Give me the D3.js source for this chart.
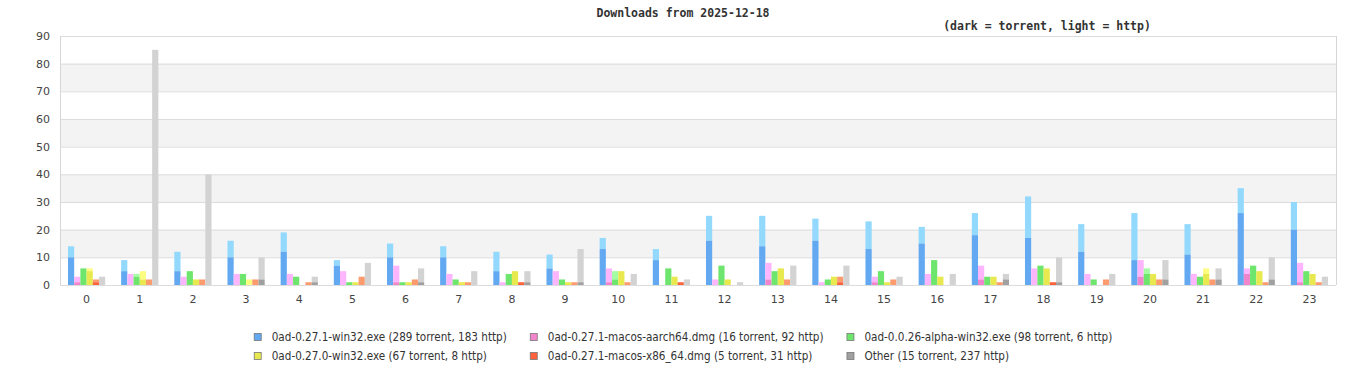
<!DOCTYPE html>
<html>
<head>
<meta charset="utf-8">
<script src="https://cdn.jsdelivr.net/npm/d3@7"></script>
<style>
  body { margin: 0; background: #fff; }
  svg { display: block; }
</style>
</head>
<body>
<div id="chart"></div>
<script>
// hours of the day
const hours = d3.range(24);

const seriesNames = [
  "0ad-0.27.1-win32.exe",
  "0ad-0.27.1-macos-aarch64.dmg",
  "0ad-0.0.26-alpha-win32.exe",
  "0ad-0.27.0-win32.exe",
  "0ad-0.27.1-macos-x86_64.dmg",
  "Other"
];

// torrent / http downloads per hour, one pair of arrays per file
const win32Torrent   = [10,5,5,10,12,7,10,10,5,6,13,9,16,14,16,13,15,18,17,12,9,11,26,20];
const win32Http      = [4,4,7,6,7,2,5,4,7,5,4,4,9,11,8,10,6,8,15,10,17,11,9,10];
const aarchTorrent   = [1,0,0,0,0,0,1,0,0,0,1,0,0,2,0,1,0,2,0,0,3,0,4,1];
const aarchHttp      = [2,4,3,4,4,5,6,4,1,5,5,0,2,6,1,2,4,5,6,4,6,4,2,7];
const alphaTorrent   = [6,3,5,4,3,1,1,2,4,2,2,6,7,5,2,5,9,3,7,2,4,3,7,5];
const alphaHttp      = [0,1,0,0,0,0,0,0,0,0,3,0,0,0,0,0,0,0,0,0,2,0,0,0];
const w2700Torrent   = [5,2,2,0,0,1,1,1,5,1,5,3,2,6,3,1,3,3,6,0,4,4,5,4];
const w2700Http      = [1,3,0,2,0,0,0,0,0,0,0,0,0,0,0,0,0,0,0,0,0,2,0,0];
const x86Torrent     = [1,0,0,0,0,0,0,0,1,0,0,1,0,0,1,0,0,0,1,0,0,0,0,0];
const x86Http        = [1,2,2,2,1,3,2,1,0,1,1,0,0,2,2,2,0,1,0,2,2,2,1,1];
const otherTorrent   = [0,0,0,2,1,0,1,0,1,1,0,0,0,0,0,0,0,2,1,0,2,2,2,0];
const otherHttp      = [3,85,40,8,2,8,5,5,4,12,4,2,1,7,7,3,4,2,9,4,7,4,8,3];

const torrentData = [win32Torrent, aarchTorrent, alphaTorrent, w2700Torrent, x86Torrent, otherTorrent];
const httpData    = [win32Http, aarchHttp, alphaHttp, w2700Http, x86Http, otherHttp];

const yTicks = [0,10,20,30,40,50,60,70,80,90];

const darkColors  = ["#62a9f2", "#f185cb", "#6ee66e", "#e8e84f", "#fd623c", "#a0a0a0"];
const lightColors = ["#93d9fd", "#fdb6fd", "#a3fda3", "#fdfd80", "#fd9b6e", "#d3d3d3"];

const width = 1366, height = 380;
const margin = { top: 36, right: 30, bottom: 95, left: 60 };

const svg = d3.select("#chart").append("svg")
  .attr("width", width)
  .attr("height", height);

const x0 = d3.scaleBand()
  .domain(hours)
  .range([margin.left, width - margin.right])
  .paddingInner(0.3)
  .paddingOuter(0.15);

const x1 = d3.scaleBand()
  .domain(d3.range(seriesNames.length))
  .range([0, x0.bandwidth()]);

const y = d3.scaleLinear()
  .domain([0, 90])
  .range([height - margin.bottom, margin.top]);

// alternating background bands
svg.append("g")
  .selectAll("rect")
  .data(yTicks.slice(0, -1).filter(t => (t / 10) % 2 === 1))
  .join("rect")
  .attr("x", margin.left)
  .attr("width", width - margin.right - margin.left)
  .attr("y", d => y(d + 10))
  .attr("height", d => y(d) - y(d + 10))
  .attr("fill", "#f3f3f3");

// grid lines
svg.append("g")
  .selectAll("line")
  .data(yTicks)
  .join("line")
  .attr("x1", margin.left)
  .attr("x2", width - margin.right)
  .attr("y1", d => y(d) + 0.5)
  .attr("y2", d => y(d) + 0.5)
  .attr("stroke", "#dcdcdc");

// plot frame sides
svg.append("line")
  .attr("x1", margin.left + 0.5).attr("x2", margin.left + 0.5)
  .attr("y1", y(90)).attr("y2", y(0))
  .attr("stroke", "#d6d6d6");
svg.append("line")
  .attr("x1", width - margin.right + 0.5).attr("x2", width - margin.right + 0.5)
  .attr("y1", y(90)).attr("y2", y(0))
  .attr("stroke", "#d6d6d6");

// bars: torrent at the bottom (dark), http stacked on top (light)
const groups = svg.append("g")
  .selectAll("g")
  .data(hours)
  .join("g")
  .attr("transform", h => `translate(${x0(h)},0)`);

seriesNames.forEach((name, s) => {
  groups.append("rect")
    .attr("x", x1(s))
    .attr("width", x1.bandwidth())
    .attr("y", h => y(torrentData[s][h] + httpData[s][h]))
    .attr("height", h => y(torrentData[s][h]) - y(torrentData[s][h] + httpData[s][h]))
    .attr("fill", lightColors[s]);
  groups.append("rect")
    .attr("x", x1(s))
    .attr("width", x1.bandwidth())
    .attr("y", h => y(torrentData[s][h]))
    .attr("height", h => y(0) - y(torrentData[s][h]))
    .attr("fill", darkColors[s]);
});

// axes
const yAxis = svg.append("g")
  .attr("transform", `translate(${margin.left},0)`)
  .call(d3.axisLeft(y).tickValues(yTicks).tickSize(0).tickPadding(10));
yAxis.select(".domain").remove();
yAxis.selectAll("text")
  .attr("fill", "#444")
  .style("font", "11px 'DejaVu Sans'");

const xAxis = svg.append("g")
  .attr("transform", `translate(0,${y(0)})`)
  .call(d3.axisBottom(x0).tickSize(0).tickPadding(10));
xAxis.select(".domain").remove();
xAxis.selectAll("text")
  .attr("fill", "#444")
  .style("font", "11px 'DejaVu Sans'");

// titles
svg.append("text")
  .attr("x", 683).attr("y", 17)
  .attr("text-anchor", "middle")
  .attr("fill", "#333")
  .style("font", "bold 11.5px 'DejaVu Sans Mono'")
  .text("Downloads from 2025-12-18");
svg.append("text")
  .attr("x", 1047).attr("y", 30)
  .attr("text-anchor", "middle")
  .attr("fill", "#333")
  .style("font", "bold 11.5px 'DejaVu Sans Mono'")
  .text("(dark = torrent, light = http)");

// legend, 3 columns x 2 rows, centered
const legendLabels = seriesNames.map((n, s) =>
  `${n} (${d3.sum(torrentData[s])} torrent, ${d3.sum(httpData[s])} http)`);

const legend = svg.append("g");
const items = legend.selectAll("g")
  .data(legendLabels)
  .join("g");
items.append("rect")
  .attr("width", 7).attr("height", 7)
  .attr("x", 0.5).attr("y", -7.5)
  .attr("fill", (d, i) => darkColors[i])
  .attr("stroke", "#777")
  .attr("stroke-width", 0.8);
items.append("text")
  .attr("x", 18)
  .attr("fill", "#333")
  .style("font", "11.6px 'DejaVu Sans Condensed'")
  .style("font-stretch", "condensed")
  .text(d => d);

const cols = 3, colGap = 23;
const textW = items.nodes().map(n => n.querySelector("text").getComputedTextLength());
const colW = d3.range(cols).map(c => d3.max(textW.filter((w, i) => i % cols === c)) + 18);
const totalW = d3.sum(colW) + colGap * (cols - 1);
const startX = width / 2 - totalW / 2;
items.attr("transform", (d, i) => {
  const c = i % cols, r = Math.floor(i / cols);
  const xx = startX + d3.sum(colW.slice(0, c)) + colGap * c;
  return `translate(${xx},${341 + r * 19})`;
});
</script>
</body>
</html>
